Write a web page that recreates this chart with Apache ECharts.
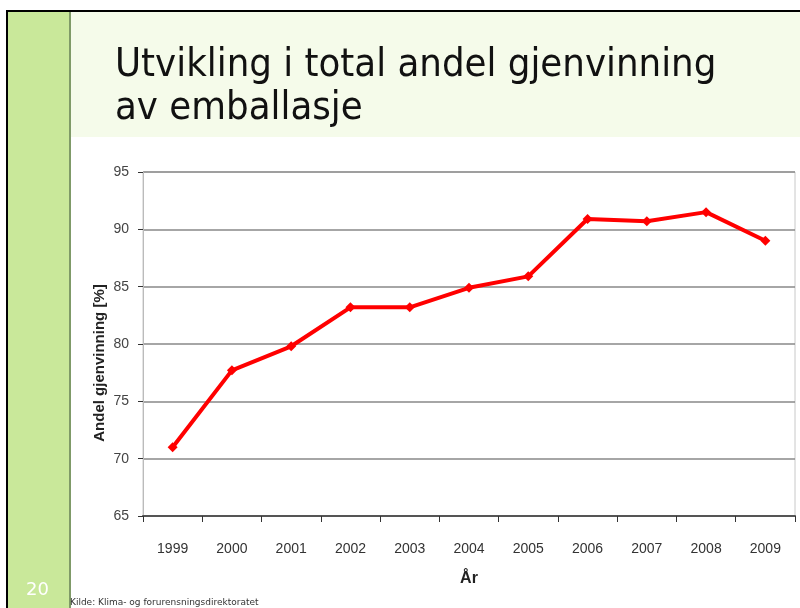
<!doctype html>
<html lang="no">

<head>
	<meta charset="UTF-8">
	<title>Utvikling i total andel gjenvinning av emballasje</title>
	<script src="https://cdn.jsdelivr.net/npm/echarts@6/dist/echarts.min.js"></script>
	<style>
		html, body { margin: 0; padding: 0; background: #fff; }
		#chart { width: 800px; height: 608px; }
	</style>
</head>

<body>
	<div id="chart"></div>

	<script>
		// data
		var years = ['1999', '2000', '2001', '2002', '2003', '2004', '2005', '2006', '2007', '2008', '2009'];
		var andel = [71.0, 77.7, 79.8, 83.2, 83.2, 84.9, 85.9, 90.9, 90.7, 91.5, 89.0];
		var yTicks = [65, 70, 75, 80, 85, 90, 95];

		var chart = echarts.init(document.getElementById('chart'));

		var option = {
			animation: false,
			backgroundColor: '#fff',
			graphic: [
				// header band
				{ type: 'rect', shape: { x: 70, y: 11, width: 730, height: 126 }, style: { fill: '#f5fbea' }, z: -10 },
				// left green bar
				{ type: 'rect', shape: { x: 7, y: 11, width: 62, height: 597 }, style: { fill: '#c9e89a' }, z: -10 },
				{ type: 'rect', shape: { x: 69, y: 11, width: 2, height: 597 }, style: { fill: '#7f9a68' }, z: -9 },
				// black frame
				{ type: 'rect', shape: { x: 6, y: 10, width: 794, height: 2 }, style: { fill: '#000' }, z: -8 },
				{ type: 'rect', shape: { x: 6, y: 10, width: 2, height: 598 }, style: { fill: '#000' }, z: -8 },
				// title (narrow face, so squeeze horizontally)
				{
					type: 'text', x: 115, y: 44, scaleX: 0.915,
					style: {
						text: 'Utvikling i total andel gjenvinning\nav emballasje',
						font: '39px "DejaVu Sans", Verdana, sans-serif',
						fill: '#111', lineHeight: 43
					}
				},
				// y axis title, sits a bit below the plot middle
				{
					type: 'text', x: 100, y: 363, rotation: Math.PI / 2,
					style: {
						text: 'Andel gjenvinning [%]',
						font: 'bold 15px "Liberation Sans", Arial, sans-serif',
						fill: '#222', align: 'center', verticalAlign: 'middle'
					}
				},
				// page number
				{
					type: 'text', left: 26, top: 581,
					style: { text: '20', font: '18px "DejaVu Sans", sans-serif', fill: '#fff' }
				},
				// source
				{
					type: 'text', left: 70, top: 598,
					style: { text: 'Kilde: Klima- og forurensningsdirektoratet', font: '9px "DejaVu Sans", sans-serif', fill: '#333' }
				}
			],
			grid: {
				left: 143, right: 5, top: 172, bottom: 92,
				show: true, borderColor: '#c8c8c8', borderWidth: 1
			},
			xAxis: {
				type: 'category',
				data: years,
				boundaryGap: true,
				name: 'År',
				nameLocation: 'middle',
				nameGap: 55,
				nameTextStyle: { fontFamily: 'Liberation Sans, Arial', fontWeight: 'bold', fontSize: 16, color: '#222' },
				axisLine: { lineStyle: { color: '#555', width: 2 } },
				axisTick: { show: true, length: 6, lineStyle: { color: '#333' } },
				axisLabel: { margin: 26, fontSize: 14, color: '#333', fontFamily: 'Liberation Sans, Arial' },
				splitLine: { show: false }
			},
			yAxis: {
				type: 'value',
				min: yTicks[0],
				max: yTicks[yTicks.length - 1],
				interval: 5,
				axisLine: { show: true, lineStyle: { color: '#bbb', width: 1 } },
				axisTick: { show: true, length: 5, lineStyle: { color: '#333' } },
				axisLabel: { margin: 14, fontSize: 14, color: '#444', fontFamily: 'Liberation Sans, Arial' },
				splitLine: { show: true, lineStyle: { color: '#888', width: 1.5 } }
			},
			series: [
				{
					type: 'line',
					data: andel,
					symbol: 'diamond',
					symbolSize: 10,
					lineStyle: { color: '#ff0000', width: 4 },
					itemStyle: { color: '#ff0000' }
				}
			]
		};
		chart.setOption(option);
	</script>
</body>

</html>
